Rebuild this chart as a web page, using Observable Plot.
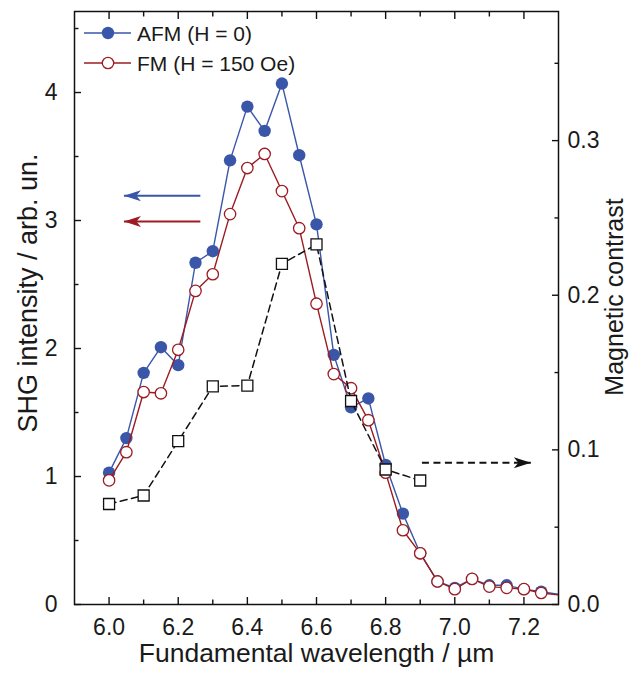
<!DOCTYPE html>
<html><head><meta charset="utf-8">
<script src="https://cdn.jsdelivr.net/npm/d3@7"></script>
<script src="https://cdn.jsdelivr.net/npm/@observablehq/plot@0.6"></script>
<style>body{margin:0;background:#fff} #chart{width:638px;height:673px;position:relative}</style>
</head><body><div id="chart"></div>
<script>
// ---- data ----
const wavelength = [6.00,6.05,6.10,6.15,6.20,6.25,6.30,6.35,6.40,6.45,6.50,6.55,6.60,6.65,6.70,6.75,6.80,6.85,6.90,6.95,7.00,7.05,7.10,7.15,7.20,7.25,7.35];
const afm = [1.03,1.30,1.81,2.01,1.87,2.67,2.76,3.47,3.89,3.70,4.07,3.51,2.97,1.95,1.54,1.61,1.09,0.71,0.40,0.18,0.13,0.20,0.15,0.15,0.12,0.10,0.06];
const fm  = [0.97,1.19,1.66,1.65,1.99,2.45,2.58,3.05,3.41,3.52,3.23,2.94,2.35,1.80,1.69,1.44,1.03,0.58,0.40,0.18,0.12,0.20,0.14,0.13,0.12,0.09,0.06];
const mcWavelength = [6.0,6.1,6.2,6.3,6.4,6.5,6.6,6.7,6.8,6.9];
const magContrast = [0.065,0.0705,0.1056,0.1411,0.1416,0.2203,0.2329,0.1316,0.0873,0.0802];
const seriesNames = ["AFM (H = 0)", "FM (H = 150 Oe)"];
const xTicks = [6.0,6.2,6.4,6.6,6.8,7.0,7.2];
const xMinor = [6.1,6.3,6.5,6.7,6.9,7.1];
const yTicks = [0,1,2,3,4];
const yMinor = [0.5,1.5,2.5,3.5,4.5];
const y2Ticks = [0.0,0.1,0.2,0.3];
const y2Minor = [0.05,0.15,0.25,0.35];
const xDomain = [5.9, 7.3];
const yDomain = [0, 4.633];
const y2Domain = [0, 0.3835];
// annotation arrows (data units: x in µm, y in left units / right units)
const leftArrows = [{x1: 6.264, x2: 6.043, y: 3.193, s: 0}, {x1: 6.264, x2: 6.043, y: 2.993, s: 1}];
const rightArrow = [{x1: 6.905, x2: 7.22, y: 0.0916}];

const blue = "#3a56a8", red = "#9c1c22";
const ratio = yDomain[1] / y2Domain[1];
const rows = wavelength.map((w, i) => ({w, afm: afm[i], fm: fm[i]}));
const mcRows = mcWavelength.map((w, i) => ({w, v: magContrast[i] * ratio}));

const headLeft = {draw(ctx, size) { const s = Math.sqrt(size / Math.PI);
  ctx.moveTo(0, 0); ctx.lineTo(17*s, -5.5*s); ctx.lineTo(12.5*s, 0); ctx.lineTo(17*s, 5.5*s); ctx.closePath(); }};
const headRight = {draw(ctx, size) { const s = Math.sqrt(size / Math.PI);
  ctx.moveTo(0, 0); ctx.lineTo(-17*s, -5.5*s); ctx.lineTo(-12.5*s, 0); ctx.lineTo(-17*s, 5.5*s); ctx.closePath(); }};

const font = "'Liberation Sans', Arial, sans-serif";
const tickStroke = {stroke: "#111", strokeWidth: 1.4};
const chart = Plot.plot({
  width: 638, height: 673,
  marginLeft: 74, marginRight: 80, marginTop: 11, marginBottom: 69,
  style: {fontFamily: font, fontSize: "23px", color: "#1a1a1a", background: "#fff", overflow: "visible"},
  x: {domain: xDomain},
  y: {domain: yDomain},
  marks: [
    // tick labels
    Plot.axisX({anchor: "bottom", ticks: xTicks, tickSize: 0, tickPadding: 14, tickFormat: d => d.toFixed(1), label: null, stroke: "none", fontSize: 23}),
    Plot.axisY({anchor: "left", ticks: yTicks, tickSize: 0, tickPadding: 17, tickFormat: d => String(d), label: null, stroke: "none", fontSize: 23}),
    Plot.axisY({anchor: "right", ticks: y2Ticks.map(d => d * ratio), tickSize: 0, tickPadding: 9, tickFormat: d => (d / ratio).toFixed(1), label: null, stroke: "none", fontSize: 23}),
    // inward ticks
    Plot.axisX({anchor: "bottom", ticks: xTicks, tickSize: -7, fill: "none", label: null, ...tickStroke}),
    Plot.axisX({anchor: "bottom", ticks: xMinor, tickSize: -4.5, fill: "none", label: null, ...tickStroke}),
    Plot.axisX({anchor: "top", ticks: xTicks, tickSize: -7, fill: "none", label: null, ...tickStroke}),
    Plot.axisX({anchor: "top", ticks: xMinor, tickSize: -4.5, fill: "none", label: null, ...tickStroke}),
    Plot.axisY({anchor: "left", ticks: yTicks, tickSize: -7, fill: "none", label: null, ...tickStroke}),
    Plot.axisY({anchor: "left", ticks: yMinor, tickSize: -4.5, fill: "none", label: null, ...tickStroke}),
    Plot.axisY({anchor: "right", ticks: y2Ticks.map(d => d * ratio), tickSize: -7, fill: "none", label: null, ...tickStroke}),
    Plot.axisY({anchor: "right", ticks: y2Minor.map(d => d * ratio), tickSize: -4.5, fill: "none", label: null, ...tickStroke}),
    // axis titles
    Plot.text(["Fundamental wavelength / µm"], {text: d => d, frameAnchor: "bottom", textAnchor: "middle", lineAnchor: "top", dy: 39, fontSize: 26.5}),
    Plot.text(["SHG intensity / arb. un."], {text: d => d, frameAnchor: "left", textAnchor: "middle", rotate: -90, dx: -46, dy: -15, fontSize: 27}),
    Plot.text(["Magnetic contrast"], {text: d => d, frameAnchor: "right", textAnchor: "middle", rotate: -90, dx: 56, dy: -11, fontSize: 25}),
    // annotation arrows
    Plot.link(leftArrows, {x1: "x1", x2: "x2", y1: "y", y2: "y", stroke: d => [blue, red][d.s], strokeWidth: 2}),
    Plot.dot(leftArrows, {x: "x2", y: "y", r: 1, symbol: headLeft, fill: d => [blue, red][d.s], stroke: "none"}),
    Plot.link(rightArrow, {x1: "x1", x2: "x2", y1: d => d.y * ratio, y2: d => d.y * ratio, stroke: "#111", strokeWidth: 2, strokeDasharray: "7,4.5"}),
    Plot.dot(rightArrow, {x: "x2", y: d => d.y * ratio, r: 1, symbol: headRight, fill: "#111", stroke: "none"}),
    // series
    Plot.line(rows, {x: "w", y: "afm", stroke: blue, strokeWidth: 1.4, clip: true}),
    Plot.dot(rows, {x: "w", y: "afm", r: 6.2, fill: blue, stroke: "none", clip: true}),
    Plot.line(rows, {x: "w", y: "fm", stroke: red, strokeWidth: 1.4, clip: true}),
    Plot.dot(rows, {x: "w", y: "fm", r: 5.7, fill: "#fff", stroke: red, strokeWidth: 1.3, clip: true}),
    Plot.line(mcRows, {x: "w", y: "v", stroke: "#111", strokeWidth: 1.5, strokeDasharray: "7,4.5"}),
    Plot.dot(mcRows, {x: "w", y: "v", r: 6.2, symbol: "square", fill: "#fff", stroke: "#111", strokeWidth: 1.3}),
    Plot.frame({stroke: "#111", strokeWidth: 1.5})
  ]
});
document.getElementById("chart").appendChild(chart);

// legend
const lg = d3.select(chart).append("g").attr("font-family", font).attr("font-size", 21).attr("text-anchor", "start");
const legendItems = [{name: seriesNames[0], color: blue, fill: blue, r: 6.2}, {name: seriesNames[1], color: red, fill: "#fff", r: 5.7}];
legendItems.forEach((d, i) => {
  const y = 33 + i * 30;
  lg.append("line").attr("x1", 84).attr("x2", 131).attr("y1", y).attr("y2", y).attr("stroke", d.color).attr("stroke-width", 1.4);
  lg.append("circle").attr("cx", 108).attr("cy", y).attr("r", d.r).attr("fill", d.fill).attr("stroke", i ? d.color : "none").attr("stroke-width", 1.3);
  lg.append("text").attr("x", 137).attr("y", y + 7.5).attr("fill", "#1a1a1a").attr("text-anchor", "start").text(d.name);
});
</script>
</body></html>
